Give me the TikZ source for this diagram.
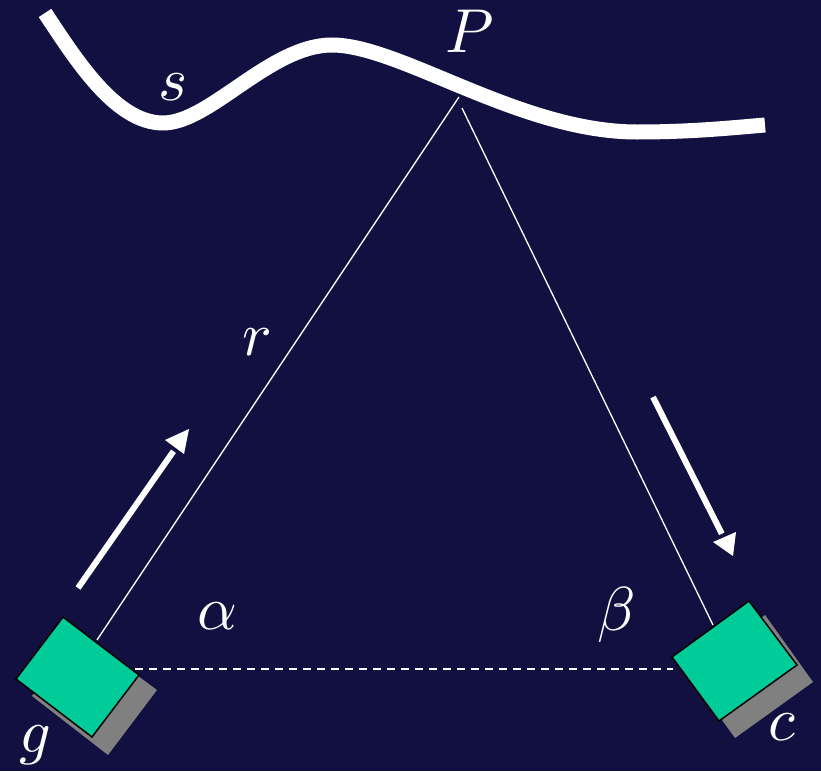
\documentclass[tikz,border=0pt]{standalone}
\usetikzlibrary{calc}
\newcommand{\biglbl}[1]{\scalebox{6.2}{$#1$}}
\begin{document}
\begin{tikzpicture}[x=1pt,y=-1pt,
  lbl/.style={text=white, inner sep=0pt, anchor=base},
  thin/.style={draw=white, line width=1.3pt},
  shaft/.style={draw=white, line width=6pt}]
\definecolor{bg}{RGB}{17,16,64}
\definecolor{boxgreen}{RGB}{0,204,153}
\definecolor{shgray}{RGB}{128,128,128}
\useasboundingbox (0,0) rectangle (821,771);
\fill[bg] (0,0) rectangle (821,771);
% curve s
\draw[white, line width=15pt] (45,13) .. controls (75,58) and (115,123) .. (163,123)
  .. controls (210,123) and (270,45) .. (332,45)
  .. controls (400,45) and (520,132) .. (637,132)
  .. controls (690,132) and (730,128) .. (765,125);
% coordinates
\coordinate (apexL) at (459,97);
\coordinate (apexR) at (462,108);
\coordinate (gtop) at (97,640);
\coordinate (ctop) at (713,625);
\coordinate (gdash) at (135,669);
\coordinate (cdash) at (673,669);
\coordinate (a1s) at (78,588);
\coordinate (a1e) at (189,429);
\coordinate (a2s) at (653,397);
\coordinate (a2e) at (733,556);
% lines
\draw[thin] (gtop) -- (apexL);
\draw[thin] (apexR) -- (ctop);
\draw[white, line width=1.6pt, dash pattern=on 8pt off 6pt] (gdash) -- (cdash);
% arrows
\draw[shaft] (a1s) -- ($(a1s)!0.86!(a1e)$);
\fill[white] (a1e) -- ++(-24,11) -- ++(19,14) -- cycle;
\draw[shaft] (a2s) -- ($(a2s)!0.86!(a2e)$);
\fill[white] (a2e) -- ++(-20,-14) -- ++(23,-10) -- cycle;
% boxes
\fill[shgray] (80,633) -- (157,690) -- (108,755) -- (32,696) -- cycle;
\filldraw[fill=boxgreen, draw=black, line width=1.5pt] (63,617) -- (139,675) -- (92,737) -- (16,679) -- cycle;
\fill[shgray] (765,615) -- (813,682) -- (735,738) -- (688,673) -- cycle;
\filldraw[fill=boxgreen, draw=black, line width=1.5pt] (749,601) -- (797,665) -- (719,721) -- (672,657) -- cycle;
% labels
\node[lbl] (P) at (470,52) {\biglbl{P}};
\node[lbl] (s) at (173,100) {\biglbl{s}};
\node[lbl] (r) at (257,355) {\biglbl{r}};
\node[lbl] (al) at (217,629) {\biglbl{\alpha}};
\node[lbl] (be) at (617,630) {\biglbl{\beta}};
\node[lbl] (g) at (35,752) {\biglbl{g}};
\node[lbl] (c) at (782,740) {\biglbl{c}};
\end{tikzpicture}
\end{document}
